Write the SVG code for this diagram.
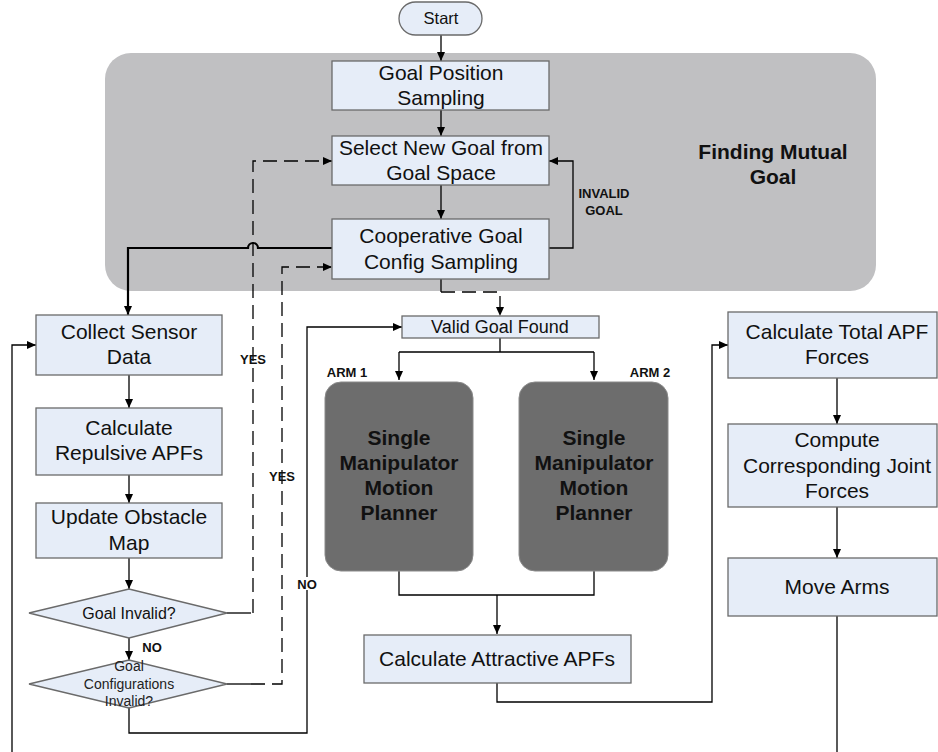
<svg xmlns="http://www.w3.org/2000/svg" width="938" height="752" viewBox="0 0 938 752">
<defs>
<marker id="ah" markerWidth="10" markerHeight="10" refX="9" refY="5" orient="auto" markerUnits="userSpaceOnUse">
<path d="M0,1 L9,5 L0,9 Z" fill="#000"/>
</marker>
<style>
.box{fill:#e6edf8;stroke:#6a6a6a;stroke-width:1.3}
.arm{fill:#6d6d6d;stroke:#8a8a8a;stroke-width:1}
.t{font-family:"Liberation Sans",Arial,sans-serif;font-size:21px;fill:#111;text-anchor:middle}
.tv{font-family:"Liberation Sans",Arial,sans-serif;font-size:18px;fill:#111;text-anchor:middle}
.ts{font-family:"Liberation Sans",Arial,sans-serif;font-size:16.5px;fill:#111;text-anchor:middle}
.tg{font-family:"Liberation Sans",Arial,sans-serif;font-size:16px;fill:#111;text-anchor:middle}
.tx{font-family:"Liberation Sans",Arial,sans-serif;font-size:14px;fill:#222;text-anchor:middle}
.b{font-family:"Liberation Sans",Arial,sans-serif;font-weight:bold;font-size:13px;fill:#111;text-anchor:middle}
.big{font-family:"Liberation Sans",Arial,sans-serif;font-weight:bold;font-size:21px;fill:#111;text-anchor:middle}
.armt{font-family:"Liberation Sans",Arial,sans-serif;font-weight:bold;font-size:21px;fill:#111;text-anchor:middle}
.c{fill:none;stroke:#000;stroke-width:1.3}
.d{fill:none;stroke:#000;stroke-width:1.3;stroke-dasharray:14 7}
.thick{fill:none;stroke:#000;stroke-width:2.2}
</style>
</defs>
<rect width="938" height="752" fill="#fff"/>
<g id="region">
<rect x="105" y="53" width="771" height="238" rx="26" fill="#c0c0c2"/>
<text class="big" x="773" y="159">Finding Mutual</text>
<text class="big" x="773" y="184">Goal</text>
</g>
<g id="connectors">
<path class="c" d="M441,35 V61" marker-end="url(#ah)"/>
<path class="c" d="M441,110 V136" marker-end="url(#ah)"/>
<path class="c" d="M441,185 V219" marker-end="url(#ah)"/>
<path class="c" d="M549,248 H573 V161 H549" marker-end="url(#ah)"/>
<path class="thick" d="M332,248 H258 A5,5 0 0 0 248,248 H128 V315" marker-end="url(#ah)"/>
<path class="c" d="M441,279 V292"/>
<path class="d" d="M441,292 H500 V316" marker-end="url(#ah)"/>
<path class="c" d="M500,338 V352 M399,352 H594"/>
<path class="c" d="M399,352 V380" marker-end="url(#ah)"/>
<path class="c" d="M594,352 V380" marker-end="url(#ah)"/>
<path class="c" d="M399,571 V595 H594 V571"/>
<path class="c" d="M497,595 V634" marker-end="url(#ah)"/>
<path class="c" d="M497,683 V702 H712 V345 H728" marker-end="url(#ah)"/>
<path class="c" d="M837,378 V424" marker-end="url(#ah)"/>
<path class="c" d="M837,507 V558" marker-end="url(#ah)"/>
<path class="c" d="M837,616 V752"/>
<path class="c" d="M12,752 V345 H36" marker-end="url(#ah)"/>
<path class="c" d="M129,375 V408" marker-end="url(#ah)"/>
<path class="c" d="M129,475 V503" marker-end="url(#ah)"/>
<path class="c" d="M129,558 V589" marker-end="url(#ah)"/>
<path class="c" d="M129,638 V660" marker-end="url(#ah)"/>
<path class="c" d="M227,613 H251"/>
<path class="d" d="M253,613 V161 H332" marker-end="url(#ah)"/>
<path class="c" d="M227,684 H251"/>
<path class="d" d="M251,684 H282 V267 H332" marker-end="url(#ah)"/>
<path class="c" d="M129,708 V733 H307 V327 H402" marker-end="url(#ah)"/>
<text class="b" x="253" y="364">YES</text>
<text class="b" x="282" y="481">YES</text>
<text class="b" x="152" y="652">NO</text>
<rect x="297" y="577" width="21" height="13" fill="#fff"/>
<text class="b" x="307" y="589">NO</text>
<text class="b" x="604" y="198">INVALID</text>
<text class="b" x="604" y="215">GOAL</text>
<text class="b" x="347" y="377">ARM 1</text>
<text class="b" x="650" y="377">ARM 2</text>
</g>
<g id="start">
<rect x="399" y="2" width="83" height="33" rx="16.5" class="box"/>
<text class="ts" x="441" y="24">Start</text>
</g>
<g id="goal-position">
<rect x="332" y="61" width="217" height="49" class="box"/>
<text class="t" x="441" y="80">Goal Position</text>
<text class="t" x="441" y="105">Sampling</text>
</g>
<g id="select-goal">
<rect x="332" y="136" width="217" height="49" class="box"/>
<text class="t" x="441" y="155">Select New Goal from</text>
<text class="t" x="441" y="180">Goal Space</text>
</g>
<g id="coop-goal">
<rect x="332" y="219" width="217" height="60" class="box"/>
<text class="t" x="441" y="243">Cooperative Goal</text>
<text class="t" x="441" y="269">Config Sampling</text>
</g>
<g id="valid-goal">
<rect x="402" y="316" width="197" height="22" class="box"/>
<text class="tv" x="500" y="333">Valid Goal Found</text>
</g>
<g id="arm1">
<rect x="325" y="382" width="148" height="189" rx="16" class="arm"/>
<text class="armt" x="399" y="445">Single</text>
<text class="armt" x="399" y="470">Manipulator</text>
<text class="armt" x="399" y="495">Motion</text>
<text class="armt" x="399" y="520">Planner</text>
</g>
<g id="arm2">
<rect x="519" y="382" width="149" height="189" rx="16" class="arm"/>
<text class="armt" x="594" y="445">Single</text>
<text class="armt" x="594" y="470">Manipulator</text>
<text class="armt" x="594" y="495">Motion</text>
<text class="armt" x="594" y="520">Planner</text>
</g>
<g id="attractive">
<rect x="364" y="635" width="267" height="48" class="box"/>
<text class="t" x="497" y="666">Calculate Attractive APFs</text>
</g>
<g id="total-apf">
<rect x="728" y="312" width="209" height="66" class="box"/>
<text class="t" x="837" y="339">Calculate Total APF</text>
<text class="t" x="837" y="364">Forces</text>
</g>
<g id="joint-forces">
<rect x="728" y="424" width="209" height="83" class="box"/>
<text class="t" x="837" y="447">Compute</text>
<text class="t" x="837" y="473">Corresponding Joint</text>
<text class="t" x="837" y="498">Forces</text>
</g>
<g id="move-arms">
<rect x="728" y="558" width="209" height="58" class="box"/>
<text class="t" x="837" y="594">Move Arms</text>
</g>
<g id="collect">
<rect x="36" y="315" width="186" height="60" class="box"/>
<text class="t" x="129" y="339">Collect Sensor</text>
<text class="t" x="129" y="364">Data</text>
</g>
<g id="repulsive">
<rect x="36" y="408" width="186" height="67" class="box"/>
<text class="t" x="129" y="435">Calculate</text>
<text class="t" x="129" y="460">Repulsive APFs</text>
</g>
<g id="obstacle">
<rect x="36" y="503" width="186" height="55" class="box"/>
<text class="t" x="129" y="524">Update Obstacle</text>
<text class="t" x="129" y="550">Map</text>
</g>
<g id="goal-invalid">
<polygon points="29,613 129,589 227,613 129,638" class="box"/>
<text class="tg" x="129" y="619">Goal Invalid?</text>
</g>
<g id="config-invalid">
<polygon points="29,684 129,660 227,684 129,708" class="box"/>
<text class="tx" x="129" y="671">Goal</text>
<text class="tx" x="129" y="689">Configurations</text>
<text class="tx" x="129" y="706">Invalid?</text>
</g>
</svg>
